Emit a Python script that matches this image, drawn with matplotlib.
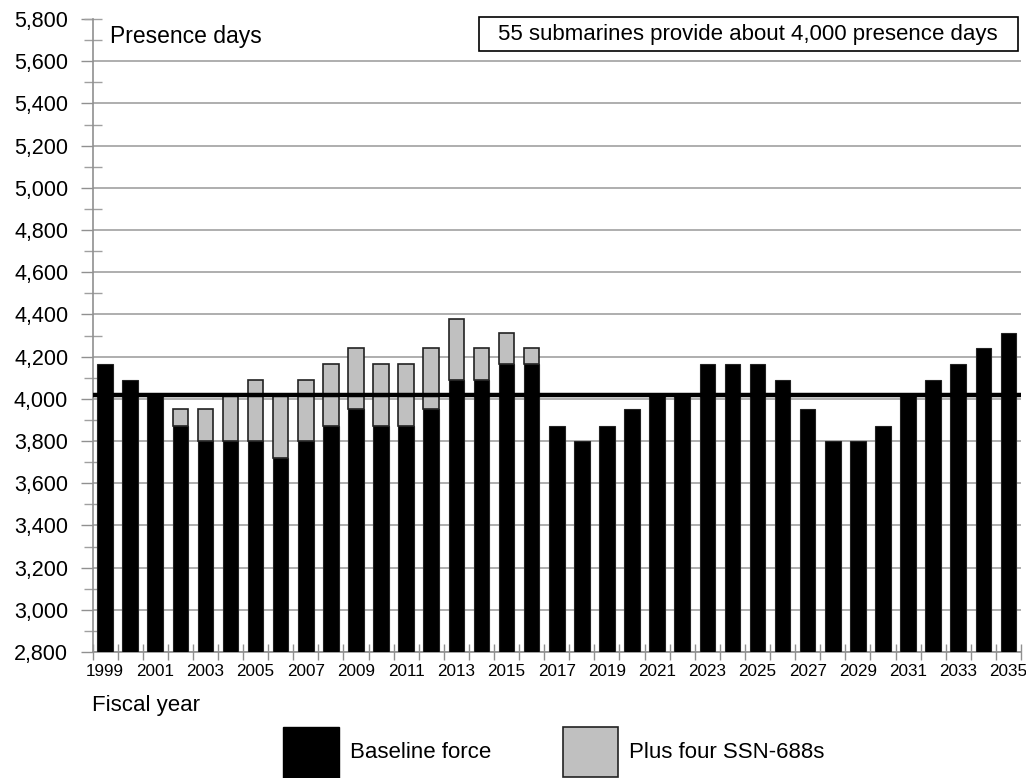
import numpy as np
import matplotlib
matplotlib.use("Agg")
import matplotlib.pyplot as plt
from matplotlib.patches import Rectangle
from matplotlib.ticker import FixedLocator, FuncFormatter

plt.rcParams['font.family'] = ['Liberation Sans', 'DejaVu Sans']

# data
years = list(range(1999, 2036))
baseline = [4165, 4090, 4020, 3870, 3800, 3800, 3800, 3720, 3800, 3870,
            3950, 3870, 3870, 3950, 4090, 4090, 4165, 4165, 3870, 3800,
            3870, 3950, 4020, 4020, 4165, 4165, 4165, 4090, 3950, 3800,
            3800, 3870, 4020, 4090, 4165, 4240, 4310]
# total with four extra SSN-688s (only 2002-2016)
plus_years = list(range(2002, 2017))
plus_total = [3950, 3950, 4020, 4090, 4020, 4090, 4165, 4240, 4165, 4165,
              4240, 4380, 4240, 4310, 4240]
target = 4020
box_text = "55 submarines provide about 4,000 presence days"

W, H = 1026, 778
fig = plt.figure(figsize=(W / 100, H / 100), dpi=100)
ax = fig.add_axes([92.5 / W, 1 - 652 / H, (1021 - 92.5) / W, (652 - 19) / H])

x = np.arange(len(years))
bw = 0.62
ax.bar(x, baseline, width=bw, bottom=0, color='black', edgecolor='#222222',
       linewidth=0.8, zorder=3)
px = np.array([years.index(y) for y in plus_years])
pb = np.array([baseline[i] for i in px])
ax.bar(px, np.array(plus_total) - pb, width=bw, bottom=pb, color='#c0c0c0',
       edgecolor='#222222', linewidth=1.2, zorder=3)

ax.axhline(target, color='black', lw=3.2, zorder=4)

ax.set_xlim(-0.5, len(years) - 0.5)
ax.set_ylim(2800, 5800)

# y axis
ax.yaxis.set_major_locator(FixedLocator(np.arange(2800, 5801, 200)))
ax.yaxis.set_minor_locator(FixedLocator(np.arange(2900, 5801, 200).tolist() + [5800]))
ax.yaxis.remove_overlapping_locs = False
ax.yaxis.set_major_formatter(FuncFormatter(lambda v, p: f"{int(v):,}"))
ax.tick_params(axis='y', which='major', direction='out', length=8.5, width=1,
               color='#909090', labelsize=15.5, pad=9)
ax.tick_params(axis='y', which='minor', direction='inout', length=13, width=1,
               color='#a0a0a0')
ax.grid(axis='y', which='major', color='#999999', lw=1.1, zorder=1)
ax.get_ygridlines()[-1].set_visible(False)

# x axis: labels at bar centres every 2 years, ticks at boundaries
ax.set_xticks(x[::2])
ax.set_xticklabels([str(y) for y in years[::2]], fontsize=12.3)
ax.xaxis.set_minor_locator(FixedLocator(np.arange(-0.5, len(years), 1.0)))
ax.tick_params(axis='x', which='major', length=0, pad=9)
ax.tick_params(axis='x', which='minor', direction='inout', length=12, width=1,
               color='#909090')

for s in ['top', 'right']:
    ax.spines[s].set_visible(False)
for s in ['left', 'bottom']:
    ax.spines[s].set_color('#909090')
    ax.spines[s].set_linewidth(1.2)
ax.set_axisbelow(True)

fig.text(110 / W, 1 - 37 / H, "Presence days", fontsize=16.5, va='center', ha='left')

# note box
fig.add_artist(Rectangle((479 / W, 1 - 51 / H), (1018 - 479) / W, 34 / H,
                         transform=fig.transFigure, facecolor='white',
                         edgecolor='black', lw=1.2, zorder=5))
fig.text(748 / W, 1 - 34.5 / H, box_text, fontsize=16, ha='center', va='center', zorder=6)

fig.text(92 / W, 1 - 706 / H, "Fiscal year", fontsize=16, ha='left', va='center')

# legend keys
fig.add_artist(Rectangle((283 / W, 0), 56 / W, 51 / H, transform=fig.transFigure,
                         facecolor='black', edgecolor='black', lw=1))
fig.text(350 / W, 1 - 752 / H, "Baseline force", fontsize=16, ha='left', va='center')
fig.add_artist(Rectangle((563 / W, 1 / H), 55 / W, 50 / H, transform=fig.transFigure,
                         facecolor='#c0c0c0', edgecolor='#222222', lw=1.2))
fig.text(629 / W, 1 - 752 / H, "Plus four SSN-688s", fontsize=16, ha='left', va='center')

fig.savefig("out.png", dpi=100)
